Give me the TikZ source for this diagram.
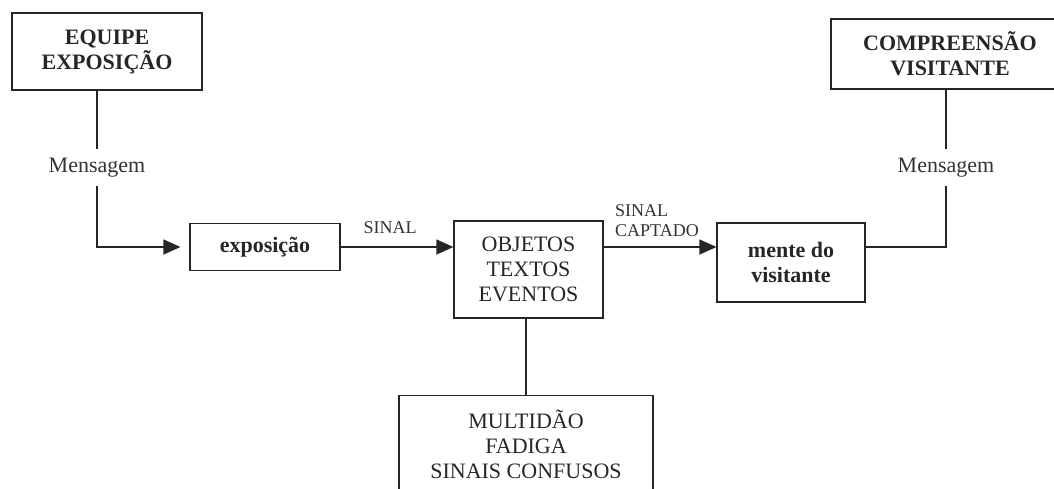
\documentclass[tikz,border=0pt]{standalone}
\usepackage{fontspec}
\setmainfont{Liberation Serif}
\usetikzlibrary{arrows.meta,positioning}

\tikzset{
  box/.style={draw=black!85, line width=1.2pt, align=center, inner sep=2pt,
              font=\fontsize{22}{25}\selectfont, text=black!85},
  bbox/.style={box, font=\fontsize{22}{25}\selectfont\bfseries},
  msg/.style={inner xsep=0pt, inner ysep=9pt, font=\fontsize{22}{25}\selectfont, text=black!80},
  lbl/.style={inner sep=0pt, font=\fontsize{18}{20}\selectfont, text=black!80},
  arr/.style={-{Triangle[length=17pt,width=15pt]}},
  conn/.style={draw=black!85, line width=1.2pt}
}

\begin{document}
\begin{tikzpicture}[x=1pt,y=-1pt]
            \useasboundingbox (0,0) rectangle (1054,488);
            \clip (0,0) rectangle (1054,488);
            % boxes
            \node (equipe) [bbox, minimum width=190pt, minimum height=77pt] at (107,51.5) {EQUIPE\\EXPOSIÇÃO};
            \node (comp)   [bbox, minimum width=238pt, minimum height=70pt] at (950,54) {COMPREENSÃO\\VISITANTE};
            \node (expo)   [bbox, minimum width=150pt, minimum height=47pt] at (265,247) {exposição};
            \node (obj)    [box, minimum width=149pt, minimum height=97pt] at (528.5,269.5) {OBJETOS\\TEXTOS\\EVENTOS};
            \node (mente)  [bbox, minimum width=148pt, minimum height=79pt] at (791,262.5) {mente do\\visitante};
            \node (multi)  [box, minimum width=254pt, inner ysep=14pt, anchor=north] at (526,395) {MULTIDÃO\\FADIGA\\SINAIS CONFUSOS};
            % labels
            \node (msg1) [msg] at (97,167.5) {Mensagem};
            \node (msg2) [msg] at (946,167.5) {Mensagem};
            \node (sinal) [lbl, anchor=south] at (390,234) {SINAL};
            \node (captado) [lbl, align=left, anchor=south west] at (615,237) {SINAL\\CAPTADO};
            % connectors
            \draw[conn] (msg1.north |- equipe.south) -- (msg1.north);
            \draw[conn, arr, shorten >=9pt] (msg1.south) |- (expo.west);
            \draw[conn, arr] (expo.east) -- (obj.west |- expo);
            \draw[conn, arr] (obj.east |- expo) -- (mente.west |- expo);
            \draw[conn] (mente.east |- expo) -| (msg2.south);
            \draw[conn] (msg2.north) -- (msg2.north |- comp.south);
            \draw[conn] (obj.south -| multi.north) -- (multi.north);

        \end{tikzpicture}
\end{document}
